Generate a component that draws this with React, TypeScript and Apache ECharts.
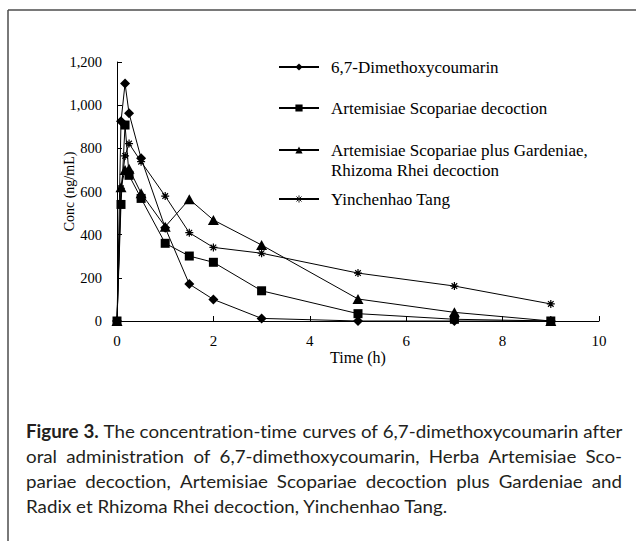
import React, { useEffect, useRef } from 'react';
import * as echarts from 'echarts';

// ---- data ----
const timeH = [0, 0.083, 0.167, 0.25, 0.5, 1, 1.5, 2, 3, 5, 7, 9];
const dimethoxy = [0, 925, 1100, 962, 754, 432, 171, 100, 12, 0, 0, 0];
const artemisiae = [0, 540, 908, 675, 568, 360, 301, 272, 140, 34, 8, 0];
const plusGardeniae = [0, 620, 700, 705, 592, 437, 564, 468, 352, 102, 40, 0];
const yinchenhao = [0, 615, 765, 822, 738, 579, 409, 341, 314, 222, 162, 79];

const seriesNames = [
  '6,7-Dimethoxycoumarin',
  'Artemisiae Scopariae decoction',
  'Artemisiae Scopariae plus Gardeniae,\nRhizoma Rhei decoction',
  'Yinchenhao Tang',
];
const seriesValues = [dimethoxy, artemisiae, plusGardeniae, yinchenhao];

const xAxisTitle = 'Time (h)';
const yAxisTitle = 'Conc (ng/mL)';

const captionBold = 'Figure 3.';
const captionLines = [
  'Figure 3. The concentration-time curves of 6,7-dimethoxycoumarin after',
  'oral administration of 6,7-dimethoxycoumarin, Herba Artemisiae Sco-',
  'pariae decoction, Artemisiae Scopariae decoction plus Gardeniae and',
  'Radix et Rhizoma Rhei decoction, Yinchenhao Tang.',
];

const SERIF = '"Liberation Serif", "Times New Roman", serif';
const CAP_FONT = 'Lato, "Open Sans", sans-serif';

const starPath =
  'path://M0,5L10,5M5,0L5,10M1.5,1.5L8.5,8.5M8.5,1.5L1.5,8.5';

function buildCaption(): any[] {
  const ctx = document.createElement('canvas').getContext('2d')!;
  const size = 18;
  const measure = (t: string, bold: boolean) => {
    ctx.font = `${bold ? 'bold' : 'normal'} ${size}px ${CAP_FONT}`;
    return ctx.measureText(t).width;
  };
  const boldWords = captionBold.split(' ');
  const left = 26;
  const right = 622;
  const spaceW = measure(' ', false);
  // scale so that the first line, with ordinary spaces, fills the column
  const l1 = captionLines[0].split(' ');
  const l1Natural =
    l1.reduce((a, w, wi) => a + measure(w, wi < boldWords.length), 0) +
    spaceW * (l1.length - 1);
  const scale = (right - left) / l1Natural;
  const els: any[] = [];
  const mk = (text: string, x: number, y: number, bold: boolean) => ({
    type: 'text',
    x,
    y,
    scaleX: scale,
    scaleY: 1,
    style: {
      text,
      x: 0,
      y: 0,
      fontSize: size,
      fontFamily: CAP_FONT,
      fontWeight: bold ? 'bold' : 'normal',
      fill: '#231f20',
      align: 'left',
      verticalAlign: 'middle',
    },
  });
  captionLines.forEach((line, li) => {
    const y = 431 + li * 25;
    if (li === captionLines.length - 1) {
      els.push(mk(line, left, y, false));
      return;
    }
    const words = line.split(' ');
    const bolds = words.map((_, wi) => li === 0 && wi < boldWords.length);
    const widths = words.map((w, wi) => measure(w, bolds[wi]) * scale);
    const total = widths.reduce((a, b) => a + b, 0);
    const gap = (right - left - total) / (words.length - 1);
    let x = left;
    words.forEach((w, wi) => {
      els.push(mk(w, x, y, bolds[wi]));
      x += widths[wi] + gap;
    });
  });
  return els;
}

export default function App() {
  const ref = useRef<HTMLDivElement>(null);
  useEffect(() => {
    document.body.style.margin = '0';
    document.body.style.overflow = 'hidden';
    const st = document.createElement('style');
    st.textContent =
      'svg text { font-variant-ligatures: none; font-feature-settings: "liga" 0, "clig" 0; }';
    document.head.appendChild(st);
    const chart = echarts.init(ref.current!, null, { renderer: 'svg' });
    const symbols = ['diamond', 'rect', 'triangle', starPath];
    const sizes: any[] = [10, 9, [11, 10], 8];
    const legendTops = [57, 98, 120, 189];
    const option: any = {
      animation: false,
      backgroundColor: '#fff',
      grid: { left: 117, top: 62, width: 482, height: 259, containLabel: false },
      xAxis: {
        type: 'value',
        min: 0,
        max: 10,
        interval: 2,
        name: xAxisTitle,
        nameLocation: 'middle',
        nameGap: 28,
        nameMoveOverlap: false,
        nameTextStyle: { fontFamily: SERIF, fontSize: 16, fontWeight: 'normal', color: '#000' },
        axisLine: { show: true, lineStyle: { color: '#000', width: 1 } },
        axisTick: { show: true, inside: true, length: 5, lineStyle: { color: '#000' } },
        axisLabel: { margin: 12, fontFamily: SERIF, fontSize: 15, color: '#000' },
        splitLine: { show: false },
      },
      yAxis: {
        type: 'value',
        min: 0,
        max: 1200,
        interval: 200,
        name: yAxisTitle,
        nameLocation: 'middle',
        nameGap: 41,
        nameMoveOverlap: false,
        nameTextStyle: { fontFamily: SERIF, fontSize: 14, fontWeight: 'normal', color: '#000' },
        axisLine: { show: true, lineStyle: { color: '#000', width: 1 } },
        axisTick: { show: true, inside: true, length: 5, lineStyle: { color: '#000' } },
        axisLabel: {
          margin: 15,
          fontFamily: SERIF,
          fontSize: 14.5,
          color: '#000',
          formatter: (v: number) => v.toLocaleString('en-US'),
        },
        splitLine: { show: false },
      },
      legend: seriesNames.map((name, i) => ({
        data: [name],
        left: 278,
        top: legendTops[i],
        orient: 'vertical',
        padding: 0,
        itemWidth: 40,
        itemHeight: 9,
        selectedMode: false,
        formatter: i === 2 ? (n: string) => ' \n' + n : undefined,
        itemStyle: i === 3 ? { borderColor: '#000', borderWidth: 0.9 } : undefined,
        textStyle: {
          fontFamily: SERIF,
          fontSize: 17,
          color: '#000',
          lineHeight: 20,
          padding: [0, 0, 0, 7],
        },
      })),
      series: seriesNames.map((name, i) => ({
        type: 'line',
        name,
        data: timeH.map((t, j) => [t, seriesValues[i][j]]),
        symbol: symbols[i],
        symbolSize: sizes[i],
        showAllSymbol: true,
        lineStyle: { color: '#000', width: 1 },
        itemStyle: { color: '#000', borderColor: '#000', borderWidth: i === 3 ? 1.2 : 0 },
        emphasis: { disabled: true },
      })),
      graphic: [
        {
          type: 'line',
          shape: { x1: 8, y1: 10, x2: 636, y2: 10 },
          style: { stroke: '#4d4d4d', lineWidth: 1.5 },
        },
        {
          type: 'line',
          shape: { x1: 8, y1: 10, x2: 8, y2: 541 },
          style: { stroke: '#4d4d4d', lineWidth: 1.5 },
        },
        ...buildCaption(),
      ],
    };
    chart.setOption(option);
    return () => {
      chart.dispose();
      st.remove();
    };
  }, []);
  return <div ref={ref} style={{ width: 636, height: 541 }} />;
}
